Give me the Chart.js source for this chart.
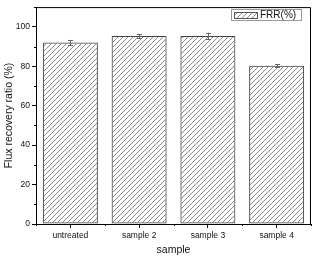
<!DOCTYPE html>
<html>
<head>
<meta charset="utf-8">
<script src="https://cdn.jsdelivr.net/npm/chart.js@4"></script>
<style>
  html, body { margin: 0; padding: 0; background: #fff; }
  #wrap { width: 312px; height: 256px; }
</style>
</head>
<body>
<div id="wrap"><canvas id="grafico" width="312" height="256"></canvas></div>
<script>
// dados
const categorias = ["untreated", "sample 2", "sample 3", "sample 4"];
const frr = [92, 95.3, 95.3, 80.2];
const erros = [1.4, 1.1, 1.7, 0.7];
const yTicks = [0, 20, 40, 60, 80, 100];

// hachura diagonal
function hachura() {
  const c = document.createElement("canvas");
  c.width = 5; c.height = 5;
  const g = c.getContext("2d");
  g.strokeStyle = "#7a7a7a";
  g.lineWidth = 0.9;
  g.beginPath();
  g.moveTo(-1, 6); g.lineTo(6, -1);
  g.moveTo(-1, 1); g.lineTo(1, -1);
  g.moveTo(4, 6); g.lineTo(6, 4);
  g.stroke();
  return g.createPattern(c, "repeat");
}
const padrao = hachura();

// moldura, ticks menores, barras de erro e legenda
const extras = {
  id: "extras",
  afterDatasetsDraw(chart) {
    const ctx = chart.ctx;
    const a = chart.chartArea;
    const y = chart.scales.y;
    ctx.save();
    // barras de erro
    const meta = chart.getDatasetMeta(0);
    ctx.strokeStyle = "#666";
    ctx.lineWidth = 1;
    meta.data.forEach((bar, i) => {
      const v = frr[i], e = erros[i];
      const cx = Math.round(bar.x) + 0.5;
      const yt = y.getPixelForValue(v + e), yb = y.getPixelForValue(v - e);
      ctx.beginPath();
      ctx.moveTo(cx, yt); ctx.lineTo(cx, yb);
      ctx.moveTo(cx - 2.5, Math.round(yt) + 0.5); ctx.lineTo(cx + 2.5, Math.round(yt) + 0.5);
      ctx.moveTo(cx - 2.5, Math.round(yb) + 0.5); ctx.lineTo(cx + 2.5, Math.round(yb) + 0.5);
      ctx.stroke();
    });
    // moldura
    ctx.strokeStyle = "#000";
    ctx.beginPath();
    ctx.moveTo(a.left, a.top + 0.5); ctx.lineTo(a.right - 0.5, a.top + 0.5);
    ctx.lineTo(a.right - 0.5, a.bottom);
    ctx.stroke();
    // ticks menores y
    ctx.beginPath();
    for (let v = 10; v <= 110; v += 20) {
      const py = Math.round(y.getPixelForValue(v)) + 0.5;
      ctx.moveTo(a.left - 2, py); ctx.lineTo(a.left, py);
    }
    // ticks menores x (entre categorias)
    for (let i = 0; i <= categorias.length; i++) {
      const px = Math.round(a.left + (a.right - a.left) * i / categorias.length) + 0.5;
      ctx.moveTo(px, a.bottom); ctx.lineTo(px, a.bottom + 2);
    }
    ctx.stroke();
    // legenda
    const lx = 231, ly = 9;
    ctx.strokeStyle = "#999";
    ctx.strokeRect(lx + 0.5, ly + 0.5, 70, 11);
    ctx.fillStyle = padrao;
    ctx.fillRect(lx + 3, ly + 3, 23, 6);
    ctx.strokeStyle = "#555";
    ctx.strokeRect(lx + 3.5, ly + 3.5, 23, 6);
    ctx.fillStyle = "#111";
    ctx.font = "10px 'Liberation Sans', Arial, sans-serif";
    ctx.textBaseline = "middle";
    ctx.fillText(chart.data.datasets[0].label, lx + 29, ly + 6.5);
    ctx.restore();
  }
};

const fonteTick = { family: "'Liberation Sans', Arial, sans-serif", size: 8.5 };
const fonteTitulo = { family: "'Liberation Sans', Arial, sans-serif", size: 10.5 };

new Chart(document.getElementById("grafico"), {
  type: "bar",
  data: {
    labels: categorias,
    datasets: [{
      label: "FRR(%)",
      data: frr,
      backgroundColor: padrao,
      borderColor: "#444",
      borderWidth: 1,
      borderSkipped: false,
      barPercentage: 0.8,
      categoryPercentage: 1.0
    }]
  },
  options: {
    responsive: false,
    animation: false,
    devicePixelRatio: 1,
    layout: { padding: { top: 1, right: 1, left: 0, bottom: 0 } },
    plugins: { legend: { display: false }, tooltip: { enabled: false } },
    scales: {
      x: {
        grid: { drawOnChartArea: false, tickLength: 4, color: "#000", offset: false },
        border: { color: "#000", width: 1 },
        ticks: { color: "#111", font: fonteTick, padding: 3, maxRotation: 0 },
        title: { display: true, text: "sample", color: "#111", font: fonteTitulo, padding: { top: 6, bottom: 0 } },
        afterFit: (s) => { s.height = 32; }
      },
      y: {
        min: 0, max: 110,
        afterBuildTicks: (s) => { s.ticks = yTicks.map(v => ({ value: v })); },
        grid: { drawOnChartArea: false, tickLength: 4, color: "#000" },
        border: { color: "#000", width: 1 },
        ticks: { color: "#111", font: fonteTick, padding: 2 },
        title: { display: true, text: "Flux recovery ratio (%)", color: "#111", font: fonteTitulo, padding: { top: 3, bottom: 2 } },
        afterFit: (s) => { s.width = 36; }
      }
    }
  },
  plugins: [extras]
});
</script>
</body>
</html>
